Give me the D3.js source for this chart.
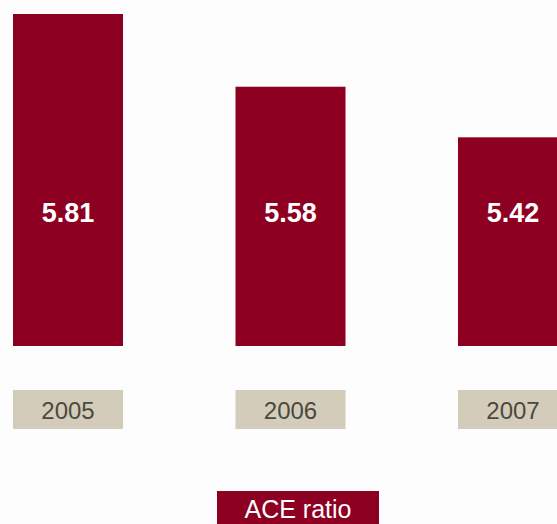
<!DOCTYPE html>
<html>
<head>
<meta charset="utf-8">
<script src="https://cdn.jsdelivr.net/npm/d3@7"></script>
<style>
  html, body { margin: 0; padding: 0; background: #fdfdfd; overflow: hidden; }
  text { font-family: "Liberation Sans", Arial, sans-serif; }
</style>
</head>
<body>
<div id="chart"></div>
<script>
var years = ["2005", "2006", "2007"];
var ratios = [5.81, 5.58, 5.42];
var seriesName = "ACE ratio";

var width = 557, height = 524;
var barColor = "#8e0022",
    boxColor = "#d4ccba",
    yearColor = "#4a4a3c";

var svg = d3.select("#chart").append("svg")
    .attr("width", width)
    .attr("height", height);

var x = d3.scaleBand()
    .domain(years)
    .range([13, 568])
    .paddingInner(0.5056)
    .paddingOuter(0)
    .align(0);

var y = d3.scaleLinear()
    .domain([4.76, 5.81])
    .range([346, 14]);

var data = years.map(function(d, i) { return {year: d, value: ratios[i]}; });

// bars
svg.append("g").selectAll(".bar")
    .data(data)
  .enter().append("rect")
    .attr("class", "bar")
    .attr("x", function(d) { return x(d.year); })
    .attr("width", x.bandwidth())
    .attr("y", function(d) { return y(d.value); })
    .attr("height", function(d) { return y.range()[0] - y(d.value); })
    .style("fill", barColor);

// value labels, all on one line
svg.append("g").selectAll(".value")
    .data(data)
  .enter().append("text")
    .attr("class", "value")
    .attr("x", function(d) { return x(d.year) + x.bandwidth() / 2; })
    .attr("y", 222)
    .style("text-anchor", "middle")
    .style("font-size", "27px")
    .style("font-weight", "bold")
    .style("fill", "#fff")
    .text(function(d) { return d3.format(".2f")(d.value); });

// year boxes
var yearG = svg.append("g").selectAll(".year")
    .data(years)
  .enter().append("g")
    .attr("class", "year")
    .attr("transform", function(d) { return "translate(" + x(d) + ",390)"; });

yearG.append("rect")
    .attr("width", x.bandwidth())
    .attr("height", 39)
    .style("fill", boxColor);

yearG.append("text")
    .attr("x", x.bandwidth() / 2)
    .attr("y", 29)
    .style("text-anchor", "middle")
    .style("font-size", "24px")
    .style("fill", yearColor)
    .text(function(d) { return d; });

// legend
var legend = svg.append("g")
    .attr("transform", "translate(217,491)");

legend.append("rect")
    .attr("width", 162)
    .attr("height", 40)
    .style("fill", barColor);

legend.append("text")
    .attr("x", 81)
    .attr("y", 27)
    .style("text-anchor", "middle")
    .style("font-size", "25px")
    .style("fill", "#fff")
    .text(seriesName);
</script>
</body>
</html>
